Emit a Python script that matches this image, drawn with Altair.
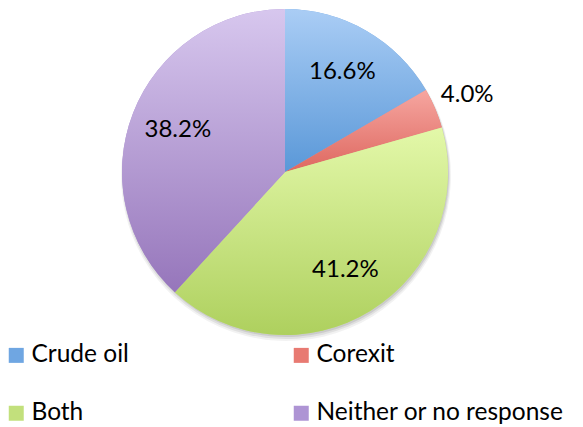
import altair as alt
import pandas as pd

# Survey answers and their shares (percent)
categories = ["Crude oil", "Corexit", "Both", "Neither or no response"]
shares = [16.6, 4.0, 41.2, 38.2]

# Slice colours: light top / dark bottom of each gradient, plus a flat tone for the legend
light = ["#aacdf5", "#f6a6a0", "#e3f8a9", "#d7c7ee"]
dark = ["#5a98d8", "#de6860", "#aed05e", "#9676bb"]
solid = ["#6fa6e2", "#e87a72", "#c2e07c", "#ae94d4"]

df = pd.DataFrame({"category": categories, "share": shares, "order": list(range(len(categories)))})

OUTER = 163

base = alt.Chart(df).transform_window(
    cum="sum(share)", sort=[alt.SortField("order")], frame=[None, 0]
).transform_calculate(
    start="datum.cum - datum.share",
    mid="datum.cum - datum.share / 2",
)

theta_scale = alt.Scale(domain=[0, 100])
theta_enc = alt.Theta("start:Q", scale=theta_scale)

# Soft drop shadow beneath the pie
shadow_layers = [
    base.mark_arc(outerRadius=OUTER + grow, fill="#000000", opacity=op, yOffset=dy, xOffset=1).encode(
        theta=theta_enc, theta2="cum:Q"
    )
    for grow, dy, op in [(2, 4, 0.05), (1, 3, 0.07), (0, 2, 0.09)]
]

# Flat slices that carry the legend
legend_layer = base.mark_arc(outerRadius=OUTER).encode(
    theta=theta_enc,
    theta2="cum:Q",
    color=alt.Color(
        "category:N",
        scale=alt.Scale(domain=categories, range=solid),
        legend=alt.Legend(
            title=None,
            orient="none",
            legendX=4,
            legendY=343,
            direction="horizontal",
            columns=2,
            symbolType="square",
            symbolSize=225,
            symbolStrokeWidth=0,
            labelFont="Lato",
            labelFontSize=24.5,
            labelColor="#000000",
            labelOffset=3,
            labelLimit=0,
            columnPadding=160,
            rowPadding=33,
        ),
    ),
)

# Gradient-filled slices drawn on top
gradient_layers = []
for c, lo, hi in zip(categories, light, dark):
    gradient_layers.append(
        base.transform_filter(alt.datum.category == c)
        .mark_arc(
            outerRadius=OUTER,
            fill=alt.Gradient(
                gradient="linear",
                x1=0, y1=0, x2=0, y2=1,
                stops=[alt.GradientStop(color=lo, offset=0), alt.GradientStop(color=hi, offset=1)],
            ),
        )
        .encode(theta=theta_enc, theta2="cum:Q")
    )

# Percentage labels; the thin slice gets its label outside the pie
labels = base.transform_calculate(
    label="format(datum.share, '.1f') + '%'",
    r="datum.share < 5 ? 198 : 115",
).mark_text(font="Lato", fontSize=24, color="#000000").encode(
    theta=alt.Theta("mid:Q", scale=theta_scale),
    radius=alt.Radius("r:Q", scale=None),
    text="label:N",
)

chart = (
    alt.layer(*shadow_layers, legend_layer, *gradient_layers, labels)
    .properties(
        width=570,
        height=344,
        padding={"left": 0, "top": 0, "right": 13, "bottom": 83},
        autosize=alt.AutoSizeParams(type="none"),
    )
    .configure_view(stroke=None)
    .configure(background="#ffffff")
)

chart.save("out.html", embed_options={"renderer": "svg", "actions": False})
